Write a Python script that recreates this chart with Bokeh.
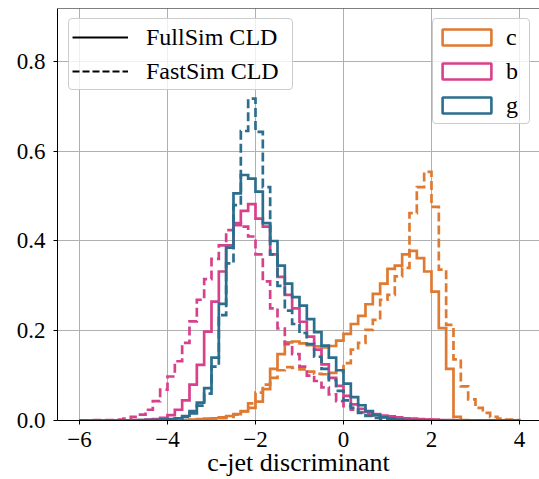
import numpy as np
from bokeh.plotting import figure
from bokeh.models import Range1d, FixedTicker, Span, Legend, LegendItem
from bokeh.embed import file_html
from bokeh.resources import INLINE

# ---------------- data ----------------
BIN_LO, BIN_HI, N_BINS = -6.0, 4.0, 60

flavours = ["c", "b", "g"]
sims = ["FullSim CLD", "FastSim CLD"]
x_title = "c-jet discriminant"

c_full = [0, 0, 0, 0, 0, 0, 0, 0, 0, 0,
          0, 0, 0, 0.001, 0.001, 0.002, 0.003, 0.004, 0.005, 0.007,
          0.010, 0.014, 0.020, 0.028, 0.042, 0.070, 0.115, 0.148, 0.174, 0.176,
          0.172, 0.168, 0.165, 0.163, 0.166, 0.178, 0.193, 0.215, 0.233, 0.259,
          0.282, 0.305, 0.338, 0.345, 0.370, 0.378, 0.362, 0.332, 0.287, 0.206,
          0.115, 0.008, 0.001, 0, 0, 0, 0, 0, 0, 0]
c_fast = [0, 0, 0, 0, 0, 0, 0, 0, 0, 0,
          0, 0, 0, 0, 0, 0.001, 0.001, 0.002, 0.003, 0.005,
          0.008, 0.013, 0.021, 0.038, 0.062, 0.080, 0.095, 0.112, 0.119, 0.117,
          0.114, 0.109, 0.104, 0.103, 0.106, 0.108, 0.128, 0.158, 0.173, 0.202,
          0.224, 0.269, 0.280, 0.321, 0.340, 0.462, 0.520, 0.554, 0.476, 0.336,
          0.213, 0.136, 0.076, 0.047, 0.028, 0.017, 0.008, 0.004, 0.002, 0.001]
b_full = [0, 0, 0, 0, 0, 0, 0, 0.001, 0.001, 0.002,
          0.003, 0.006, 0.012, 0.024, 0.045, 0.080, 0.124, 0.198, 0.265, 0.332,
          0.390, 0.435, 0.467, 0.482, 0.450, 0.432, 0.370, 0.320, 0.280, 0.250,
          0.220, 0.187, 0.158, 0.125, 0.095, 0.077, 0.055, 0.036, 0.026, 0.019,
          0.014, 0.011, 0.009, 0.007, 0.005, 0.004, 0.003, 0.002, 0.002, 0.001,
          0.001, 0, 0, 0, 0, 0, 0, 0, 0, 0]
b_fast = [0, 0, 0.001, 0.001, 0.001, 0.002, 0.004, 0.008, 0.013, 0.024,
          0.043, 0.069, 0.098, 0.132, 0.173, 0.221, 0.269, 0.315, 0.360, 0.390,
          0.424, 0.440, 0.432, 0.410, 0.370, 0.310, 0.250, 0.205, 0.170, 0.148,
          0.120, 0.100, 0.088, 0.074, 0.058, 0.043, 0.032, 0.024, 0.018, 0.014,
          0.011, 0.008, 0.006, 0.005, 0.004, 0.003, 0.002, 0.002, 0.001, 0,
          0, 0, 0, 0, 0, 0, 0, 0, 0, 0]
g_full = [0, 0, 0, 0, 0, 0, 0, 0, 0.001, 0.001,
          0.001, 0.002, 0.003, 0.005, 0.010, 0.021, 0.040, 0.072, 0.140, 0.260,
          0.385, 0.506, 0.547, 0.539, 0.510, 0.440, 0.400, 0.345, 0.305, 0.275,
          0.256, 0.226, 0.197, 0.167, 0.140, 0.112, 0.082, 0.052, 0.034, 0.021,
          0.012, 0.007, 0.004, 0.002, 0.001, 0, 0, 0, 0, 0,
          0, 0, 0, 0, 0, 0, 0, 0, 0, 0]
g_fast = [0, 0, 0, 0, 0, 0, 0, 0, 0, 0.001,
          0.001, 0.001, 0.002, 0.004, 0.008, 0.016, 0.033, 0.060, 0.120, 0.235,
          0.350, 0.480, 0.645, 0.717, 0.643, 0.520, 0.370, 0.300, 0.245, 0.215,
          0.195, 0.170, 0.142, 0.115, 0.090, 0.066, 0.045, 0.028, 0.017, 0.010,
          0.006, 0.003, 0.002, 0.001, 0, 0, 0, 0, 0, 0,
          0, 0, 0, 0, 0, 0, 0, 0, 0, 0]

x_ticks = [-6, -4, -2, 0, 2, 4]
x_tick_labels = ["\u22126", "\u22124", "\u22122", "0", "2", "4"]
y_ticks = [0.0, 0.2, 0.4, 0.6, 0.8]
y_tick_labels = ["0.0", "0.2", "0.4", "0.6", "0.8"]

# ---------------- styles ----------------
ORANGE = "#DF7A32"
PINK = "#D7418C"
BLUE = "#2C6E8E"
colors = {"c": ORANGE, "b": PINK, "g": BLUE}
FONT = "Liberation Serif, DejaVu Serif, serif"
X_END = 4.455
Y_END = 0.918
NAN = [float("nan")]

edges = np.linspace(BIN_LO, BIN_HI, N_BINS + 1)


def outline(vals):
    v = np.asarray(vals, dtype=float)
    xs = np.concatenate([[edges[0]], np.repeat(edges, 2)[1:-1], [edges[-1]]])
    ys = np.concatenate([[0.0], np.repeat(v, 2), [0.0]])
    return xs, ys


p = figure(width=539, height=479, output_backend="svg", toolbar_location=None,
           x_range=Range1d(-6.5, X_END), y_range=Range1d(0, Y_END),
           min_border_left=57, min_border_right=0, min_border_top=8,
           min_border_bottom=58)
p.outline_line_color = None
p.background_fill_color = "white"
p.border_fill_color = "white"

# axes
for ax, ticks, labels in ((p.xaxis[0], x_ticks, x_tick_labels),
                          (p.yaxis[0], y_ticks, y_tick_labels)):
    ax.ticker = FixedTicker(ticks=ticks)
    ax.major_label_overrides = dict(zip(ticks, labels))
    ax.axis_line_color = "black"
    ax.axis_line_width = 1
    ax.major_tick_line_color = "black"
    ax.major_tick_in = 0
    ax.major_tick_out = 4
    ax.minor_tick_line_color = None
    ax.major_label_text_font = FONT
    ax.major_label_text_font_size = "23px"
    ax.major_label_text_color = "black"
p.xaxis[0].major_label_standoff = 7
p.yaxis[0].major_label_standoff = 8
p.xaxis[0].axis_label = x_title
p.xaxis[0].axis_label_text_font = FONT
p.xaxis[0].axis_label_text_font_size = "26px"
p.xaxis[0].axis_label_text_font_style = "normal"
p.xaxis[0].axis_label_text_color = "black"
p.xaxis[0].axis_label_standoff = -2

p.xgrid.ticker = FixedTicker(ticks=x_ticks)
p.ygrid.ticker = FixedTicker(ticks=y_ticks)
p.grid.grid_line_color = "#b0b0b0"
p.grid.grid_line_width = 1

# top spine
p.add_layout(Span(location=Y_END, dimension="width", line_color="black", line_width=1))

# histograms
series = {"c": (c_full, c_fast), "b": (b_full, b_fast), "g": (g_full, g_fast)}
for fl in flavours:
    full, fast = series[fl]
    xs, ys = outline(full)
    p.line(xs, ys, line_color=colors[fl], line_width=2.7, line_join="miter")
    xs, ys = outline(fast)
    p.line(xs, ys, line_color=colors[fl], line_width=2.7, line_dash="9 4", line_join="miter")

# legends (proxy renderers hold no drawable data)
r_full = p.line(x=NAN, y=NAN, line_color="black", line_width=2)
r_fast = p.line(x=NAN, y=NAN, line_color="black", line_width=2, line_dash="7 3")
leg1 = Legend(items=[LegendItem(label=sims[0], renderers=[r_full]),
                     LegendItem(label=sims[1], renderers=[r_fast])],
              location=(11, 330), orientation="vertical", margin=0,
              padding=3, spacing=4, glyph_width=56, glyph_height=20,
              label_standoff=18, label_width=143, label_height=30,
              label_text_font=FONT, label_text_font_size="24px", label_text_color="black",
              background_fill_color="white", background_fill_alpha=0.8,
              border_line_color="#cccccc", border_line_width=1, border_line_alpha=1,
              border_radius=4)
p.add_layout(leg1, "center")

patch_items = []
for fl in flavours:
    r = p.quad(left=NAN, right=NAN, top=NAN, bottom=NAN, fill_color="white", fill_alpha=1,
               line_color=colors[fl], line_width=2.6)
    patch_items.append(LegendItem(label=fl, renderers=[r]))
leg2 = Legend(items=patch_items, location=(375, 296), orientation="vertical", margin=0,
              padding=3, spacing=4, glyph_width=61, glyph_height=20,
              label_standoff=9, label_width=20, label_height=30,
              label_text_font=FONT, label_text_font_size="24px", label_text_color="black",
              background_fill_color="white", background_fill_alpha=0.8,
              border_line_color="#cccccc", border_line_width=1, border_line_alpha=1,
              border_radius=4)
p.add_layout(leg2, "center")

open("out.html", "w").write(file_html(p, INLINE))
